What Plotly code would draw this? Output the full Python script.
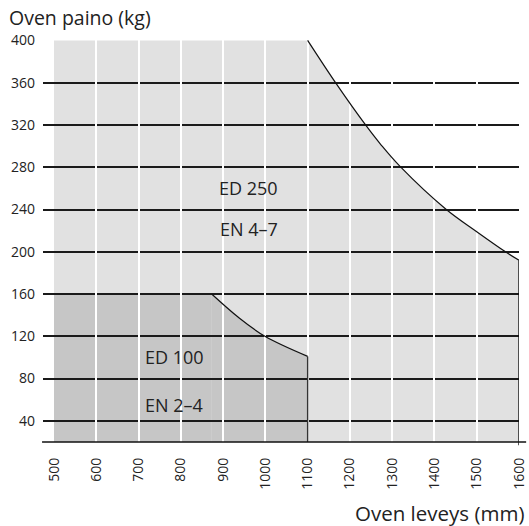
import plotly.graph_objects as go

# ---- data ----
x_ticks = [500, 600, 700, 800, 900, 1000, 1100, 1200, 1300, 1400, 1500, 1600]
y_ticks = [40, 80, 120, 160, 200, 240, 280, 320, 360, 400]

ed250_flat_x = [500, 1100]
ed250_flat_y = [400, 400]
ed250_curve_x = [1100, 1166, 1237, 1274, 1318, 1428, 1500, 1568, 1600]
ed250_curve_y = [400, 360, 320, 301, 281, 240, 219, 200, 192]

ed100_flat_x = [500, 873]
ed100_flat_y = [160, 160]
ed100_curve_x = [873, 936, 999, 1100]
ed100_curve_y = [160, 138, 120, 101]

region_labels = ["ED 250", "EN 4\u20137", "ED 100", "EN 2\u20134"]
y_title = "Oven paino (kg)"
x_title = "Oven leveys (mm)"

# ---- styling ----
X_RANGE = [474, 1600]
Y_RANGE = [20, 400.4]
Y_MIN = 20
LIGHT = "#e1e1e1"
DARK = "#c6c6c6"
FONT = "Open Sans"
TXT = "#222222"

fig = go.Figure()

# Subplot 1: filled regions
for fx, fy, col, shape in [
    (ed250_flat_x, ed250_flat_y, LIGHT, "linear"),
    (ed250_curve_x, ed250_curve_y, LIGHT, "spline"),
    (ed100_flat_x, ed100_flat_y, DARK, "linear"),
    (ed100_curve_x, ed100_curve_y, DARK, "spline"),
]:
    fig.add_trace(go.Scatter(x=fx, y=fy, mode="lines", fill="tozeroy",
                             fillcolor=col, line=dict(width=0, shape=shape, color=col),
                             hoverinfo="skip", xaxis="x", yaxis="y"))

# Subplot 2: holds black horizontal gridlines (drawn above fills)
fig.add_trace(go.Scatter(x=[], y=[], xaxis="x2", yaxis="y2", hoverinfo="skip"))

# Subplot 3: white vertical gridlines + outlines on top
fig.add_trace(go.Scatter(x=ed250_curve_x, y=ed250_curve_y, mode="lines",
                         line=dict(color="#111", width=1.2, shape="spline"),
                         hoverinfo="skip", xaxis="x3", yaxis="y3"))
fig.add_trace(go.Scatter(x=[ed250_curve_x[-1]] * 2, y=[ed250_curve_y[-1], Y_MIN], mode="lines",
                         line=dict(color="#111", width=1.4),
                         hoverinfo="skip", xaxis="x3", yaxis="y3"))
fig.add_trace(go.Scatter(x=ed100_curve_x, y=ed100_curve_y, mode="lines",
                         line=dict(color="#111", width=1.2, shape="spline"),
                         hoverinfo="skip", xaxis="x3", yaxis="y3"))
fig.add_trace(go.Scatter(x=[ed100_curve_x[-1]] * 2, y=[ed100_curve_y[-1], Y_MIN], mode="lines",
                         line=dict(color="#333", width=1.4),
                         hoverinfo="skip", xaxis="x3", yaxis="y3"))

common = dict(domain=[0, 1], zeroline=False, fixedrange=True, showline=False, automargin=False)

fig.update_layout(
    width=529, height=526, autosize=False,
    margin=dict(l=43, r=10, t=40, b=84, pad=0, autoexpand=False),
    paper_bgcolor="white", plot_bgcolor="rgba(0,0,0,0)",
    showlegend=False,
    font=dict(family=FONT, color=TXT),
    xaxis=dict(**common, range=X_RANGE, anchor="y", tickmode="array", tickvals=x_ticks,
               tickangle=-90, showgrid=False, ticks="", tickfont=dict(size=14, color=TXT),
               ticklabelstandoff=12),
    yaxis=dict(**common, range=Y_RANGE, anchor="x", showgrid=False, showticklabels=False),
    xaxis2=dict(**common, range=X_RANGE, anchor="y2", showgrid=False, showticklabels=False),
    yaxis2=dict(**common, range=Y_RANGE, anchor="x2", tickmode="array", tickvals=y_ticks,
                showgrid=True, gridcolor="#1a1a1a", gridwidth=1.5, ticks="",
                tickfont=dict(size=14, color=TXT), ticklabelstandoff=7),
    xaxis3=dict(**common, range=X_RANGE, anchor="y3", tickmode="array", tickvals=x_ticks[1:-1],
                showgrid=True, gridcolor="white", gridwidth=1.5, showticklabels=False),
    yaxis3=dict(**common, range=Y_RANGE, anchor="x3", showgrid=False, showticklabels=False),
)

# axis line along the bottom and end tick
fig.add_shape(type="line", xref="paper", yref="paper", x0=-0.002, x1=1.015, y0=0, y1=0,
              line=dict(color="#111", width=1.5), layer="above")
fig.add_shape(type="line", xref="x3", yref="paper", x0=x_ticks[-1], x1=x_ticks[-1], y0=0, y1=-0.008,
              line=dict(color="#111", width=1.4), layer="above")

# region labels
for text, xv, yv in [(region_labels[0], 961, 260.6), (region_labels[1], 961, 222),
                     (region_labels[2], 784, 100), (region_labels[3], 785, 55)]:
    fig.add_annotation(text=text, x=xv, y=yv, xref="x3", yref="y3", showarrow=False,
                       font=dict(size=18, color=TXT, family=FONT), xanchor="center", yanchor="middle")

# axis titles
fig.add_annotation(text=y_title, xref="paper", yref="paper", x=-0.0756, y=1.0572,
                   xanchor="left", yanchor="middle", showarrow=False,
                   font=dict(size=19.5, color=TXT, family=FONT))
fig.add_annotation(text=x_title, xref="paper", yref="paper", x=1.0147, y=-0.177,
                   xanchor="right", yanchor="middle", showarrow=False,
                   font=dict(size=20.5, color=TXT, family=FONT))

fig.write_html("out.html", config={"displayModeBar": False},
               post_script="document.body.style.margin='0px';document.body.style.overflow='hidden';")
